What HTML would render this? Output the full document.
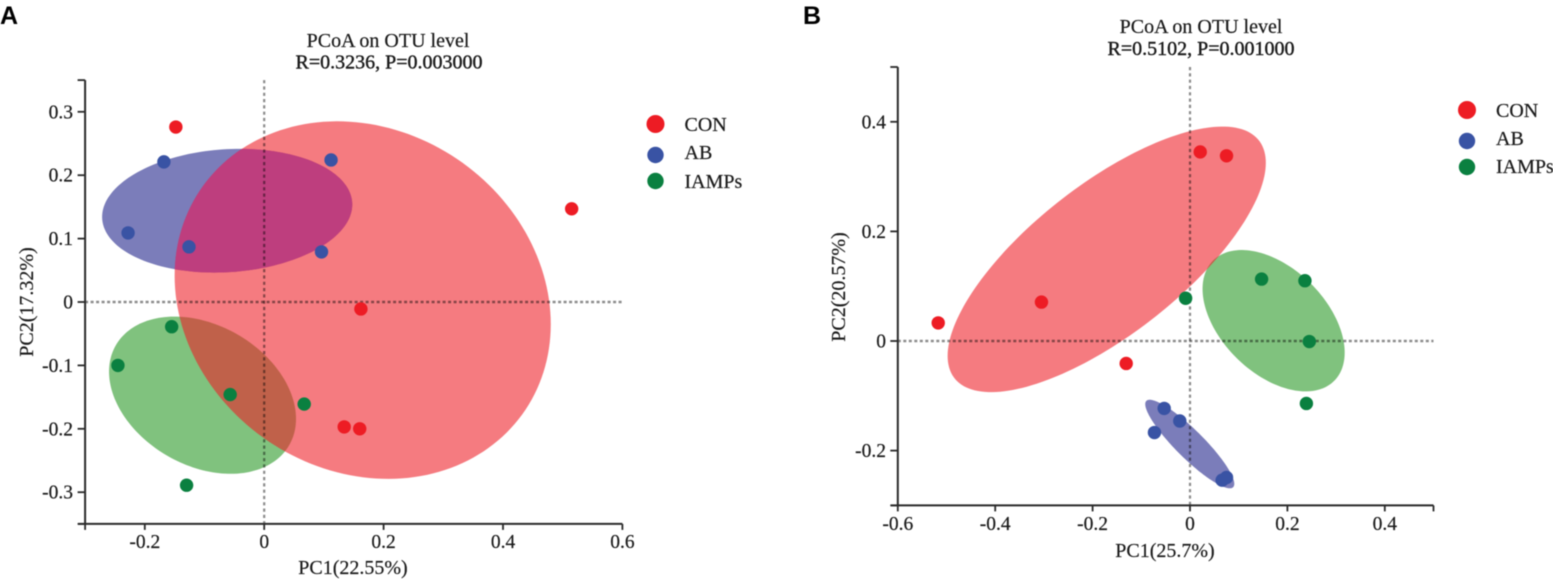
<!DOCTYPE html>
<html lang="en">
<head>
<meta charset="utf-8">
<title>PCoA on OTU level</title>
<style>
html,body{margin:0;padding:0;background:#fff;}
svg{display:block;filter:blur(0.45px);}
text{font-family:"Liberation Serif",serif;fill:#1a1a1a;stroke:#1a1a1a;stroke-width:0.2px;font-size:20px;}
.tick{font-size:19.5px;}
.panel-letter{font-family:"Liberation Sans",sans-serif;font-weight:bold;font-size:25px;fill:#000;stroke:none;}
.zero-line{mix-blend-mode:multiply;}
</style>
</head>
<body>
<svg id="chart" xmlns="http://www.w3.org/2000/svg" width="1553" height="579" viewBox="0 0 1553 579">
  <text class="panel-letter" x="0" y="24">A</text>
  <text class="panel-letter" x="803" y="24">B</text>
  <g id="panelA"></g>
  <g id="panelB"></g>
  <text x="388" y="47" text-anchor="middle">PCoA on OTU level</text>
  <text x="389" y="68.5" text-anchor="middle" style="stroke-width:0.4px">R=0.3236, P=0.003000</text>
  <text x="353" y="574" text-anchor="middle">PC1(22.55%)</text>
  <text transform="translate(33,302) rotate(-90)" text-anchor="middle">PC2(17.32%)</text>
  <text x="1201" y="33" text-anchor="middle">PCoA on OTU level</text>
  <text x="1201" y="55" text-anchor="middle" style="stroke-width:0.4px">R=0.5102, P=0.001000</text>
  <text x="1165" y="557" text-anchor="middle">PC1(25.7%)</text>
  <text transform="translate(845,287) rotate(-90)" text-anchor="middle">PC2(20.57%)</text>
  <g>
    <circle cx="655.5" cy="124" r="9" fill="#ed1c24"/>
    <text x="684.5" y="131">CON</text>
    <circle cx="655.5" cy="155" r="8.2" fill="#3953a4"/>
    <text x="684.5" y="159">AB</text>
    <circle cx="655.5" cy="181" r="8.2" fill="#0a8040"/>
    <text x="684.5" y="188">IAMPs</text>
  </g>
  <g>
    <circle cx="1467" cy="110" r="9" fill="#ed1c24"/>
    <text x="1496" y="117">CON</text>
    <circle cx="1467" cy="141" r="8.2" fill="#3953a4"/>
    <text x="1496" y="145">AB</text>
    <circle cx="1467" cy="167" r="8.2" fill="#0a8040"/>
    <text x="1496" y="173">IAMPs</text>
  </g>
</svg>
<script>
// ---------- Panel A data ----------
const groupNames = ['con', 'ab', 'iamps'];
const aConX = [-0.148, 0.515, 0.162, 0.134, 0.160];
const aConY = [0.276, 0.147, -0.011, -0.197, -0.200];
const aAbX = [-0.168, 0.112, -0.228, -0.126, 0.096];
const aAbY = [0.221, 0.224, 0.109, 0.087, 0.079];
const aIampsX = [-0.155, -0.245, -0.057, 0.067, -0.130];
const aIampsY = [-0.039, -0.100, -0.146, -0.161, -0.289];
// ellipse order: con, ab, iamps (centre, half-extents, correlation)
const aEllipseCx = [0.165, -0.062, -0.1033];
const aEllipseCy = [0.003, 0.144, -0.147];
const aEllipseSx = [0.315, 0.2095, 0.1566];
const aEllipseSy = [0.282, 0.0976, 0.124];
const aEllipseRho = [-0.135, 0.10, -0.30];
const aXTicks = [-0.3, -0.2, 0, 0.2, 0.4, 0.6];
const aXTickLabels = ['', '-0.2', '0', '0.2', '0.4', '0.6'];
const aYTicks = [-0.35, -0.3, -0.2, -0.1, 0, 0.1, 0.2, 0.3, 0.35];
const aYTickLabels = ['', '-0.3', '-0.2', '-0.1', '0', '0.1', '0.2', '0.3', ''];

// ---------- Panel B data ----------
const bConX = [0.021, 0.075, -0.305, -0.517, -0.131];
const bConY = [0.345, 0.338, 0.071, 0.033, -0.041];
const bAbX = [-0.053, -0.021, -0.073, 0.075, 0.066];
const bAbY = [-0.123, -0.146, -0.167, -0.249, -0.254];
const bIampsX = [0.147, 0.236, -0.009, 0.245, 0.239];
const bIampsY = [0.113, 0.110, 0.078, -0.001, -0.114];
const bEllipseCx = [-0.171, -0.0005, 0.1717];
const bEllipseCy = [0.149, -0.188, 0.037];
const bEllipseSx = [0.3267, 0.0914, 0.1459];
const bEllipseSy = [0.2423, 0.0808, 0.129];
const bEllipseRho = [0.727, -0.90, -0.45];
const bXTicks = [-0.6, -0.4, -0.2, 0, 0.2, 0.4, 0.5];
const bXTickLabels = ['-0.6', '-0.4', '-0.2', '0', '0.2', '0.4', ''];
const bYTicks = [-0.3, -0.2, 0, 0.2, 0.4, 0.5];
const bYTickLabels = ['', '-0.2', '0', '0.2', '0.4', ''];

// ---------- Axis functions ----------
const xA = v => 264.2 + 597 * v;
const yA = v => 302 - 634 * v;
const xB = v => 1190 + 487 * v;
const yB = v => 341 - 548 * v;

const NS = 'http://www.w3.org/2000/svg';
const pointColors = ['#ed1c24', '#3953a4', '#0a8040'];
const ellipseColors = ['#ed1c24', '#7b7dba', '#80c27e'];
const ellipseOpacity = [0.58, 1, 1];
const drawOrder = [1, 2, 0];
const overlapColor = '#be3e7e';

function mk(parent, tag, attrs) {
  const e = document.createElementNS(NS, tag);
  for (const k in attrs) e.setAttribute(k, attrs[k]);
  parent.appendChild(e);
  return e;
}

function ellipsePath(x, y, ell, i) {
  let d = '';
  const r = ell.rho[i], q = Math.sqrt(1 - r * r);
  for (let k = 0; k < 180; k++) {
    const t = k / 180 * 2 * Math.PI;
    const px = x(ell.cx[i] + ell.sx[i] * Math.cos(t));
    const py = y(ell.cy[i] + ell.sy[i] * (r * Math.cos(t) + q * Math.sin(t)));
    d += (k ? 'L' : 'M') + px.toFixed(2) + ' ' + py.toFixed(2);
  }
  return d + 'Z';
}

function drawPanel(root, prefix, x, y, xLim, yLim, xTicks, xLabels, yTicks, yLabels, xLabelBase, yLabelRight, series, ell) {
  // ellipses
  drawOrder.forEach(i => {
    const p = mk(root, 'path', {d: ellipsePath(x, y, ell, i), fill: ellipseColors[i], 'fill-opacity': ellipseOpacity[i]});
    
    
  });

  // CON / AB overlap keeps the darker magenta of the original
  const clip = mk(root, 'clipPath', {id: prefix + '-con-clip'});
  mk(clip, 'path', {d: ellipsePath(x, y, ell, 0)});
  const overlap = mk(root, 'path', {d: ellipsePath(x, y, ell, 1), fill: overlapColor, 'clip-path': 'url(#' + prefix + '-con-clip)'});
  
  

  // reference dashed lines
  const vDash = mk(root, 'line', {class: 'zero-line', x1: x(0), x2: x(0), y1: y(yLim[1]), y2: y(yLim[0]), stroke: '#8c8c8c', 'stroke-width': 2.2, 'stroke-dasharray': '3.2 3.1'});
  
  
  const hDash = mk(root, 'line', {class: 'zero-line', x1: x(xLim[0]), x2: x(xLim[1]), y1: y(0), y2: y(0), stroke: '#8c8c8c', 'stroke-width': 2.4, 'stroke-dasharray': '3 2.5'});
  
  

  // axes
  const yAxis = mk(root, 'line', {x1: x(xLim[0]), x2: x(xLim[0]), y1: y(yLim[1]), y2: y(yLim[0]), stroke: '#2a2a2a', 'stroke-width': 2});
  
  
  const xAxis = mk(root, 'line', {x1: x(xLim[0]) - 7, x2: x(xLim[1]), y1: y(yLim[0]), y2: y(yLim[0]), stroke: '#2a2a2a', 'stroke-width': 2});
  
  

  xTicks.forEach((v, i) => {
    const t = mk(root, 'line', {x1: x(v), x2: x(v), y1: y(yLim[0]), y2: y(yLim[0]) + 6, stroke: '#2a2a2a', 'stroke-width': 1.8});
    
    
    if (xLabels[i]) {
      const l = mk(root, 'text', {x: x(v), y: xLabelBase, 'text-anchor': 'middle', class: 'tick'});
      l.textContent = xLabels[i];
      
      
    }
  });
  yTicks.forEach((v, i) => {
    const t = mk(root, 'line', {x1: x(xLim[0]) - 7.5, x2: x(xLim[0]), y1: y(v), y2: y(v), stroke: '#2a2a2a', 'stroke-width': 1.8});
    
    
    if (yLabels[i]) {
      const l = mk(root, 'text', {x: yLabelRight, y: y(v) + 6.5, 'text-anchor': 'end', class: 'tick'});
      l.textContent = yLabels[i];
      
      
    }
  });

  // points
  series.forEach((s, g) => {
    s.x.forEach((v, i) => {
      const c = mk(root, 'circle', {cx: x(v), cy: y(s.y[i]), r: 6.7, fill: pointColors[g]});
      
      
    });
  });
}

drawPanel(document.getElementById('panelA'), 'panel-a', xA, yA, [-0.3, 0.6], [-0.35, 0.35],
  aXTicks, aXTickLabels, aYTicks, aYTickLabels, 548, 73,
  [{x: aConX, y: aConY}, {x: aAbX, y: aAbY}, {x: aIampsX, y: aIampsY}],
  {cx: aEllipseCx, cy: aEllipseCy, sx: aEllipseSx, sy: aEllipseSy, rho: aEllipseRho});

drawPanel(document.getElementById('panelB'), 'panel-b', xB, yB, [-0.6, 0.5], [-0.3, 0.5],
  bXTicks, bXTickLabels, bYTicks, bYTickLabels, 530, 886,
  [{x: bConX, y: bConY}, {x: bAbX, y: bAbY}, {x: bIampsX, y: bIampsY}],
  {cx: bEllipseCx, cy: bEllipseCy, sx: bEllipseSx, sy: bEllipseSy, rho: bEllipseRho});
</script>
</body>
</html>
